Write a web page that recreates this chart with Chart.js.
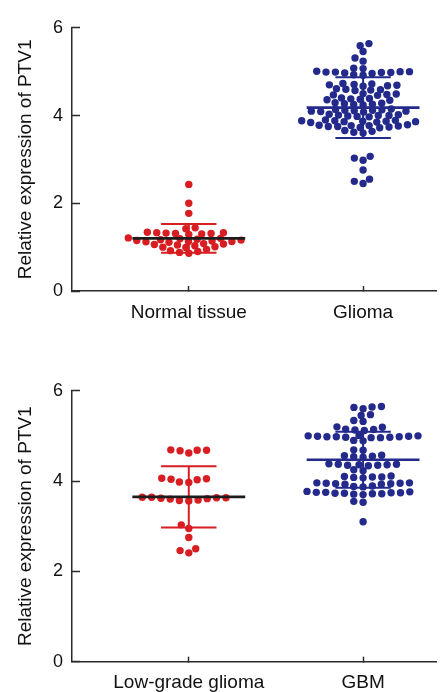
<!DOCTYPE html>
<html><head><meta charset="utf-8">
<script src="https://cdn.jsdelivr.net/npm/chart.js@4/dist/chart.umd.min.js"></script>
<style>
html,body{margin:0;padding:0;background:#fff;overflow:hidden;}
.box{position:absolute;left:0;width:440px;height:346px;}
#b1{top:0}#b2{top:346px}
</style>
</head><body>
<div class="box" id="b1"><canvas id="c1" width="440" height="346"></canvas></div>
<div class="box" id="b2"><canvas id="c2" width="440" height="346"></canvas></div>
<script>
// ---------- data ----------
const categoriesTop = ['Normal tissue', 'Glioma'];
const categoriesBottom = ['Low-grade glioma', 'GBM'];
const yTickValues = [0, 2, 4, 6];
const yTitle = 'Relative expression of PTV1';

const normalTissue = [0.86,0.88,0.9,0.92,0.95,
  0.99,1.0,1.01,1.03,1.05,1.06,1.07,1.08,
  1.11,1.12,1.13,1.13,1.14,1.15,1.16,1.17,1.18,1.19,1.2,1.21,
  1.29,1.3,1.31,1.31,1.32,1.33,1.33,1.34,
  1.42,1.44,1.77,2.0,2.43];
const glioma = [2.45,2.5,2.55, 2.76, 2.98,3.03,3.07,
  3.6,3.62,3.64,3.66,
  3.72,3.73,3.74,3.75,3.75,3.76,3.77,3.77,3.78,3.79,
  3.84,3.85,3.86,3.86,3.87,3.87,3.88,3.88,3.89,3.9,
  3.97,3.98,3.99,4.0,4.0,4.01,4.02,4.03,
  4.08,4.09,4.1,4.1,4.11,4.12,4.12,4.13,4.14,4.15,
  4.24,4.25,4.26,4.27,4.28,4.29,
  4.35,4.36,4.37,4.38,4.39,4.4,
  4.46,4.47,4.48,4.49,4.5,
  4.57,4.58,4.59,4.6,4.61,
  4.67,4.68,4.69,4.7,4.71,4.72,4.73,
  4.92,4.93,4.96,4.97,4.98,4.98,4.99,4.99,5.0,5.0,5.01,
  5.07,5.08, 5.24,5.31, 5.46, 5.59,5.64];
const lowGradeGlioma = [2.41,2.46,2.5, 2.75, 2.95,3.03,
  3.56,3.57,3.58,3.6,3.61,3.62,3.63,3.63,3.64,3.64,
  3.97,3.98,4.03,4.04,4.05,4.06,
  4.62,4.67,4.68,4.68,4.69];
const gbm = [3.1, 3.53,3.55,
  3.7,3.71,3.72,3.72,3.73,3.73,3.74,3.74,3.75,3.75,3.76,3.77,
  3.87,3.88,3.89,3.93,3.93,3.94,3.94,3.95,3.95,3.96,3.96,
  4.07,4.08,4.09,4.09,4.1,4.11,
  4.23,4.25,
  4.34,4.35,4.35,4.36,4.36,4.37,4.37,4.38,
  4.53,4.54,4.55,4.56,4.57,
  4.68,4.69,
  4.89,4.9,4.96,4.96,4.97,4.97,4.98,4.98,4.98,4.99,4.99,5.0,5.0,5.01,
  5.12,5.13,5.14,5.15,5.19,5.2,
  5.32,5.34, 5.45,5.47, 5.6,5.63,5.64,5.65];

const meanTop = [1.2, 4.18];
const sdTop = [0.33, 0.69];
const meanBottom = [3.65, 4.47];
const sdBottom = [0.68, 0.62];

// ---------- style ----------
const RED = '#d81e22', NAVY = '#232a8c', DARK = '#1c1c1c', AXIS = '#2a2a2a';
const FONT = "'Liberation Sans', Arial, Helvetica, sans-serif";
const SEP_X_PX = 9.5, SEP_Y_PX = 6, MEAN_HALF_PX = 57, CAP_HALF_PX = 28;

// beeswarm layout (elliptical spacing): each dot as close to the category centre as possible
function swarm(values, center, ppuX, ppuY) {
  const sorted = [...values].sort((a, b) => a - b);
  const placed = [], out = [];
  const D = SEP_X_PX, D2 = D * D, k = SEP_X_PX / SEP_Y_PX;
  sorted.forEach(v => {
    const py = v * ppuY * k;
    const cands = [0];
    placed.forEach(p => {
      const dy = Math.abs(p.py - py);
      if (dy < D) { const dx = Math.sqrt(D2 - dy * dy); cands.push(p.px + dx, p.px - dx); }
    });
    cands.sort((a, b) => Math.abs(a) - Math.abs(b) || a - b);
    let best = 0;
    for (const cx of cands) {
      if (placed.every(p => (p.px - cx) ** 2 + (p.py - py) ** 2 >= D2 - 1e-6)) { best = cx; break; }
    }
    placed.push({px: best, py});
    out.push({x: center + best / ppuX, y: v});
  });
  return out;
}

function makeChart(id, cats, groups, dotColors, lineColors, barColors, means, sds, padTop, xHeight) {
  const datasets = [];
  groups.forEach((g, i) => {
    datasets.push({label: 'mean' + i, data: [], showLine: true, pointRadius: 0, borderColor: lineColors[i], borderWidth: 2.6, order: 0, spanGaps: false});
    datasets.push({label: 'sd' + i, data: [], showLine: true, pointRadius: 0, borderColor: barColors[i], borderWidth: 2, order: 0, spanGaps: false});
    datasets.push({label: 'dots' + i, data: [], showLine: false, pointRadius: 3.7, pointHoverRadius: 3.7, pointBorderWidth: 0, backgroundColor: dotColors[i], borderColor: dotColors[i], order: 1});
  });
  const chart = new Chart(document.getElementById(id), {
    type: 'scatter',
    data: {datasets},
    options: {
      responsive: false, animation: false, devicePixelRatio: 1,
      layout: {padding: {top: padTop, left: 0, right: 0, bottom: 0}},
      plugins: {legend: {display: false}, tooltip: {enabled: false}},
      scales: {
        x: {type: 'linear', min: 0.33, max: 2.42,
          afterBuildTicks: s => { s.ticks = cats.map((c, i) => ({value: i + 1})); },
          afterFit: s => { s.height = xHeight; },
          ticks: {callback: v => cats[Math.round(v) - 1] ?? '', color: '#111', font: {family: FONT, size: 19}, padding: 15, maxRotation: 0, autoSkip: false},
          grid: {drawOnChartArea: false, drawTicks: true, tickLength: -5, color: AXIS, tickWidth: 1.5},
          border: {display: true, color: AXIS, width: 1.5}},
        y: {min: 0, max: 6,
          afterBuildTicks: s => { s.ticks = yTickValues.map(v => ({value: v})); },
          afterFit: s => { s.width = 72; },
          ticks: {color: '#111', font: {family: FONT, size: 18}, padding: 17},
          grid: {drawOnChartArea: false, drawTicks: true, tickLength: -8, color: AXIS, tickWidth: 1.5},
          border: {display: true, color: AXIS, width: 1.5},
          title: {display: true, text: yTitle, color: '#111', font: {family: FONT, size: 19}, padding: {top: 14, bottom: 0}}}
      }
    }
  });
  const sx = chart.scales.x, sy = chart.scales.y;
  const ppuX = Math.abs(sx.getPixelForValue(1) - sx.getPixelForValue(0));
  const ppuY = Math.abs(sy.getPixelForValue(1) - sy.getPixelForValue(0));
  groups.forEach((g, i) => {
    const c = i + 1, m = means[i], s = sds[i];
    const h = MEAN_HALF_PX / ppuX, ch = CAP_HALF_PX / ppuX;
    chart.data.datasets[i * 3].data = [{x: c - h, y: m}, {x: c + h, y: m}];
    chart.data.datasets[i * 3 + 1].data = [
      {x: c, y: m - s}, {x: c, y: m + s}, {x: c, y: null},
      {x: c - ch, y: m + s}, {x: c + ch, y: m + s}, {x: c, y: null},
      {x: c - ch, y: m - s}, {x: c + ch, y: m - s}];
    chart.data.datasets[i * 3 + 2].data = swarm(g, c, ppuX, ppuY);
  });
  chart.update('none');
  return chart;
}

makeChart('c1', categoriesTop, [normalTissue, glioma], [RED, NAVY], [DARK, NAVY], [RED, NAVY], meanTop, sdTop, 17, 55);
makeChart('c2', categoriesBottom, [lowGradeGlioma, gbm], [RED, NAVY], [DARK, NAVY], [RED, NAVY], meanBottom, sdBottom, 44.7, 30.3);
</script>
</body></html>
